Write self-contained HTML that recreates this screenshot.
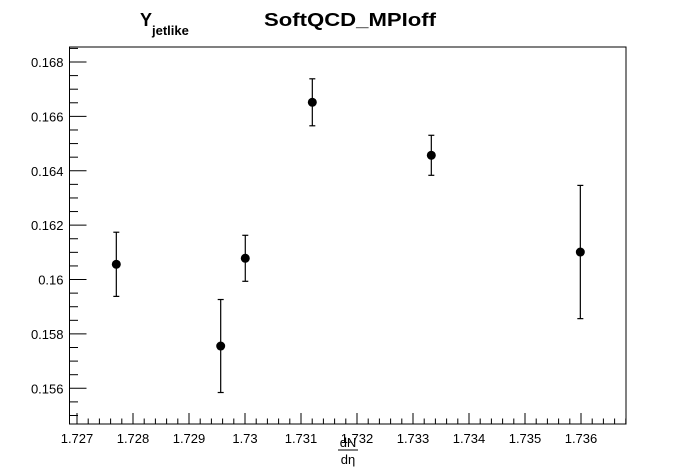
<!DOCTYPE html>
<html><head><meta charset="utf-8"><style>
html,body{margin:0;padding:0;background:#fff;}
svg{display:block;font-family:"Liberation Sans",Arial,sans-serif;}
</style></head><body>
<svg id="chart" width="696" height="472" viewBox="0 0 696 472">
<rect x="0" y="0" width="696" height="472" fill="#fff"/>
<g>
<text x="140" y="26" font-size="18" font-weight="bold">Y<tspan font-size="13" dy="9">jetlike</tspan></text>
<text x="264" y="26" font-size="18" font-weight="bold" textLength="172" lengthAdjust="spacingAndGlyphs">SoftQCD_MPIoff</text>
</g>
<g id="axes"></g>
<g id="marks"></g>
<g>
<text x="348" y="447" font-size="13" text-anchor="middle">dN</text>
<line x1="338" y1="450" x2="358" y2="450" stroke="#000" stroke-width="1"/>
<text x="348" y="464" font-size="13" text-anchor="middle">dη</text>
</g>
</svg>
<script>
const xValues = [1.727702, 1.729566, 1.730005, 1.731202, 1.733327, 1.735988];
const yValues = [0.16056, 0.157555, 0.160781, 0.166518, 0.164569, 0.161012];
const yErrors = [0.00118, 0.00171, 0.000846, 0.000864, 0.000736, 0.00245];
const xTickLabels = ["1.727","1.728","1.729","1.73","1.731","1.732","1.733","1.734","1.735","1.736"];
const yTickLabels = ["0.156","0.158","0.16","0.162","0.164","0.166","0.168"];

const NS = "http://www.w3.org/2000/svg";
const L = 69.5, R = 626, T = 47, B = 424;
const xMin = 1.727 - 7.5/56000, xMax = 1.727 + (R-77)/56000;
const yMin = 0.156 - (B-388.3)/27190, yMax = 0.168 + (62-T)/27190;
function sx(v){ return L + (v - xMin) / (xMax - xMin) * (R - L); }
function sy(v){ return B - (v - yMin) / (yMax - yMin) * (B - T); }
function mk(tag, attrs, parent){
  const e = document.createElementNS(NS, tag);
  for (const k in attrs) e.setAttribute(k, attrs[k]);
  parent.appendChild(e); return e;
}
const axes = document.getElementById('axes');
const frame = mk('rect', {x:L, y:T, width:R-L, height:B-T, fill:'none', stroke:'#000', 'stroke-width':1}, axes);



// x ticks
for (let i = -1; i <= 50; i++) {
  const v = 1.727 + i * 0.0002;
  const x = sx(v);
  if (x < L || x > R) continue;
  const major = (i % 5 === 0);
  const t = mk('line', {x1:x, y1:B, x2:x, y2:B - (major ? 11 : 5.5), stroke:'#000', 'stroke-width':1}, axes);
  
  
}
xTickLabels.forEach(function(lab){
  const x = sx(parseFloat(lab));
  const t = mk('text', {x:x, y:B+19, 'font-size':13, 'text-anchor':'middle'}, axes);
  t.textContent = lab;
  
  
});
// y ticks
for (let i = -4; i <= 30; i++) {
  const v = 0.156 + i * 0.0005;
  const y = sy(v);
  if (y < T - 0.5 || y > B) continue;
  const major = (i % 4 === 0);
  const t = mk('line', {x1:L, y1:y, x2:L + (major ? 17 : 8.5), y2:y, stroke:'#000', 'stroke-width':1}, axes);
  
  
}
yTickLabels.forEach(function(lab){
  const y = sy(parseFloat(lab));
  const t = mk('text', {x:L-6, y:y+5, 'font-size':13, 'text-anchor':'end'}, axes);
  t.textContent = lab;
  
  
});
// points
const marks = document.getElementById('marks');
xValues.forEach(function(xv, i){
  const x = sx(xv), y = sy(yValues[i]);
  const y1 = sy(yValues[i] + yErrors[i]), y2 = sy(yValues[i] - yErrors[i]);
  const g = mk('g', {}, marks);
  
  
  const eb = mk('line', {x1:x, y1:y1, x2:x, y2:y2, stroke:'#000', 'stroke-width':1.2}, g);
  
  
  const c1 = mk('line', {x1:x-3, y1:y1, x2:x+3, y2:y1, stroke:'#000', 'stroke-width':1.2}, g);
  
  
  const c2 = mk('line', {x1:x-3, y1:y2, x2:x+3, y2:y2, stroke:'#000', 'stroke-width':1.2}, g);
  
  
  const m = mk('circle', {cx:x, cy:y, r:4.5, fill:'#000'}, g);
  
  
});
</script>
</body></html>
